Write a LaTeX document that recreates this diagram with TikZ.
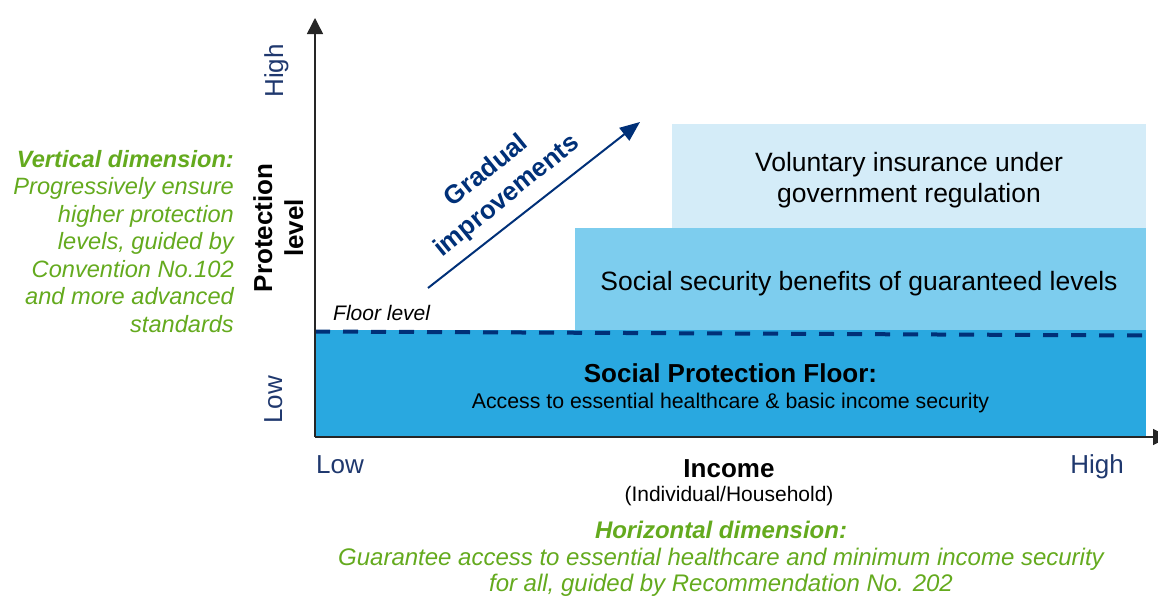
\documentclass[tikz,border=0pt]{standalone}
\usepackage{fontspec}
\setmainfont{Liberation Sans}
\usetikzlibrary{arrows.meta}
\definecolor{floorblue}{RGB}{41,168,224}
\definecolor{midblue}{RGB}{125,205,238}
\definecolor{paleblue}{RGB}{212,236,248}
\definecolor{navy}{RGB}{0,48,120}
\definecolor{axisnavy}{RGB}{31,56,110}
\definecolor{dimgreen}{RGB}{100,170,30}
\tikzset{
  levelbox/.style={draw=none,inner sep=0pt,outer sep=0pt,anchor=north west},
  boxtext/.style={inner sep=0pt,anchor=base,text=black,font=\fontsize{26.5}{31}\selectfont},
  axisline/.style={line width=1.5pt,draw=black!85,-{Triangle[length=16pt,width=16pt]}},
  axislbl/.style={inner sep=0pt,anchor=base,text=axisnavy,font=\fontsize{26}{31}\selectfont},
  axistitle/.style={inner sep=0pt,anchor=base,text=black,font=\bfseries\fontsize{26}{31}\selectfont},
  floordash/.style={draw=navy,line width=4pt,dash pattern=on 15pt off 13pt},
  gradarrow/.style={draw=navy,line width=2pt,-{Triangle[length=20pt,width=16pt]}},
  greentext/.style={inner sep=0pt,text=dimgreen}
}
\begin{document}
\begin{tikzpicture}[x=1pt,y=-1pt]
\useasboundingbox (0,0) rectangle (1158,597);
% level boxes
\node[levelbox,fill=floorblue,minimum width=831pt,minimum height=107pt] (floor) at (315,330) {};
\node[levelbox,fill=midblue,minimum width=571pt,minimum height=102pt] (mid) at (575,228) {};
\node[levelbox,fill=paleblue,minimum width=474pt,minimum height=104pt] (top) at (672,124) {};
% box texts
\node[boxtext] (vol1) at (909,171) {Voluntary insurance under};
\node[boxtext] (vol2) at (909,202) {government regulation};
\node[boxtext] (ssb) at (859,290.5) {Social security benefits of guaranteed levels};
\node[boxtext,font=\bfseries\fontsize{26}{31}\selectfont] (spf) at (730.5,382) {Social Protection Floor:};
\node[boxtext,font=\fontsize{21.3}{25}\selectfont] (spfsub) at (730.5,408.5) {Access to essential healthcare \& basic income security};
% floor level dashed line
\coordinate (dl) at (315,331.5);
\coordinate (dr) at (1146,335.5);
\draw[floordash] (dl) -- (dr);
\node[inner sep=0pt,anchor=base west,font=\itshape\fontsize{21}{25}\selectfont] (floorlbl) at (333,320.5) {Floor level};
% gradual improvements
\coordinate (ga) at (428,288);
\coordinate (gb) at (640,122);
\draw[gradarrow] (ga) -- (gb);
\node[inner sep=0pt,rotate=39,align=center,text=navy,font=\bfseries\fontsize{26}{32}\selectfont] (grad) at (497,184) {Gradual\\improvements};
% axes
\coordinate (origin) at (315,437);
\coordinate (ytop) at (315,18);
\coordinate (xend) at (1169,437);
\draw[axisline] (origin) -- (ytop);
\draw[axisline] (origin) -- (xend);
% axis labels
\node[axislbl,rotate=90] (yhigh) at (283,71) {High};
\node[axislbl,rotate=90] (ylow) at (282,400) {Low};
\node[axislbl] (xlow) at (340,473) {Low};
\node[axislbl] (xhigh) at (1097,473) {High};
\node[axistitle,rotate=90] (ptitle1) at (272,228) {Protection};
\node[axistitle,rotate=90] (ptitle2) at (303,228) {level};
\node[axistitle] (income) at (729,477) {Income};
\node[boxtext,font=\fontsize{21}{25}\selectfont] (incomesub) at (729,501) {(Individual/Household)};
% dimension texts
\node[greentext,anchor=north east,align=right,font=\itshape\fontsize{23.6}{27.5}\selectfont] (vdim) at (234,150)
  {\textbf{Vertical dimension:}\\Progressively ensure\\higher protection\\levels, guided by\\Convention No.102\\and more advanced\\standards};
\node[greentext,anchor=north,align=center,font=\itshape\fontsize{24}{26.5}\selectfont] (hdim) at (721,521)
  {\textbf{Horizontal dimension:}\\Guarantee access to essential healthcare and minimum income security\\for all, guided by Recommendation No. 202};
\end{tikzpicture}
\end{document}
